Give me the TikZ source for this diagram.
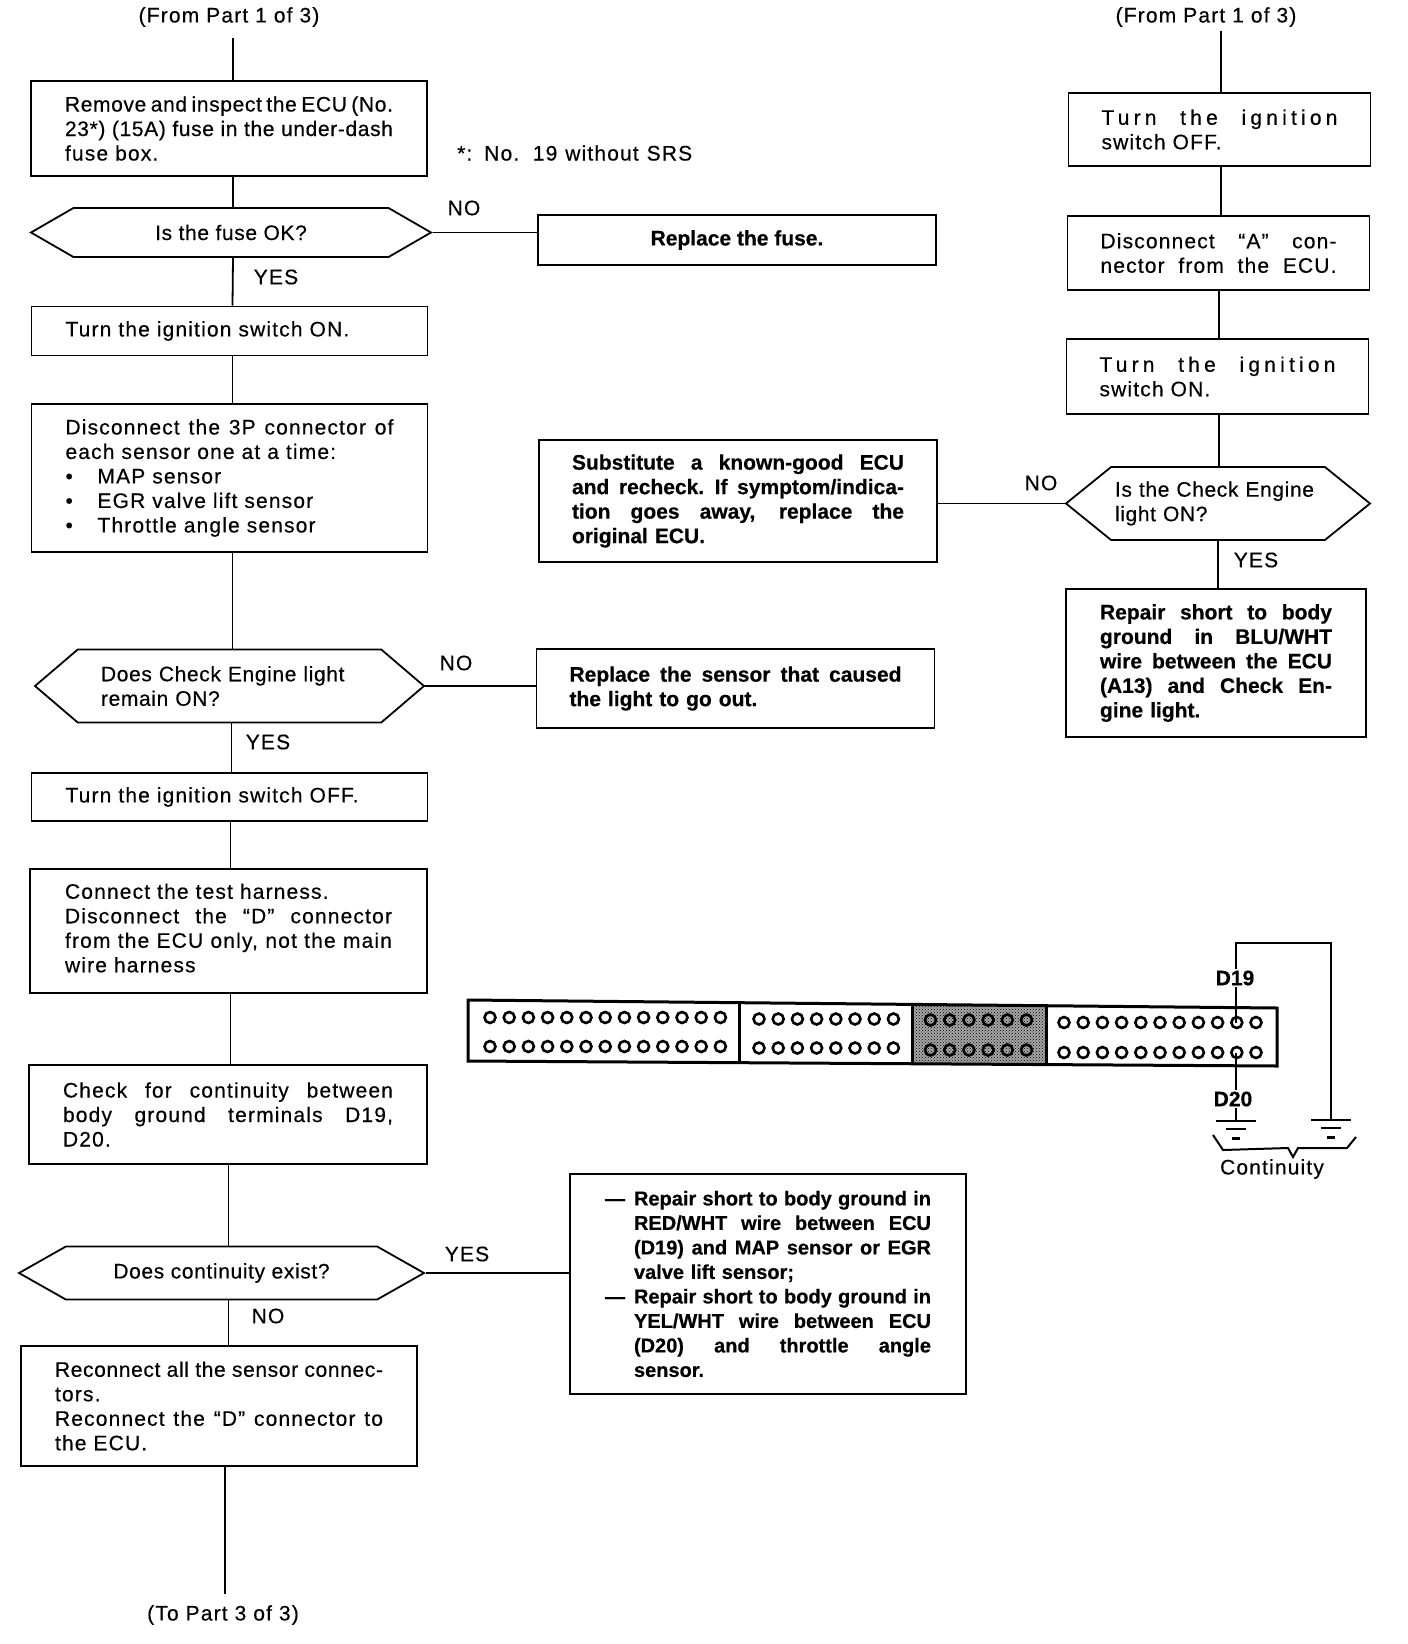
\documentclass[tikz,border=0pt]{standalone}
\usepackage{fontspec}
\setmainfont[UprightFeatures={LetterSpace=5.5,FakeBold=0.4},BoldFeatures={FakeBold=0.5}]{Liberation Sans}
\newfontfamily\tightfont[LetterSpace=3,FakeBold=0.4]{Liberation Sans}
\newfontfamily\widefont[LetterSpace=20,FakeBold=0.4]{Liberation Sans}
\usetikzlibrary{calc,shapes.symbols,patterns}

% one line of a box, spread to the full measure
\newcommand{\jline}[2][\hsize]{\makebox[#1][s]{\spaceskip=.3em plus 1fil minus .1em\relax #2}}
% the same, with the letters closer or further apart
\newcommand{\tightline}[1]{\jline{\tightfont #1}}
\newcommand{\wideline}[1]{\jline{\widefont #1}}

\begin{document}
\begin{tikzpicture}[
  x=1pt,
  y=-1pt,
  font=\fontsize{21}{24.5}\selectfont,
  line/.style={draw=black,line width=1.8pt},
  wire/.style={draw=black,line width=2.2pt},
  flowbox/.style={line,rectangle,align=left,inner xsep=#1,inner ysep=0pt},
  flowbox/.default=33pt,
  boldbox/.style={flowbox=#1,font=\fontsize{21}{24.5}\selectfont\bfseries},
  boldbox/.default=33pt,
  query/.style={line,signal,signal to=east and west,inner sep=0pt,align=left,
    font=\fontsize{21}{24.5}\selectfont\tightfont},
  tag/.style={inner sep=0pt},
  pinlabel/.style={fill=white,inner sep=2pt,font=\fontsize{21}{24.5}\selectfont\bfseries},
  hole/.style={draw=black,line width=2.6pt,fill=none}
]
\useasboundingbox (0,0) rectangle (1408,1644);

% Left column
\node[tag] (fromleft) at (229,17) {(From Part 1 of 3)};
\node[flowbox=34pt,text width=328pt,minimum height=95pt] (fuse) at (229,128.5)
  {\tightline{Remove and inspect the ECU (No.}\\\tightline{23*) (15A) fuse in the under-dash}\\fuse box.};
\node[query,minimum width=400pt,minimum height=49pt,signal pointer angle=60] (isfuse) at (231,232.5)
  {Is the fuse OK?};
\node[flowbox=34pt,text width=328pt,minimum height=49pt] (ignon) at (229.5,331)
  {Turn the ignition switch ON.};
\node[flowbox=34pt,text width=328pt,minimum height=148pt] (sensors) at (229.5,478)
  {\jline{Disconnect the 3P connector of}\\each sensor one at a time:\\
   \makebox[32pt][l]{\textbullet}MAP sensor\\
   \makebox[32pt][l]{\textbullet}EGR valve lift sensor\\
   \makebox[32pt][l]{\textbullet}Throttle angle sensor};
\node[query,minimum width=389pt,minimum height=73pt,signal pointer angle=81,text width=257pt] (remain) at (229.5,686)
  {Does Check Engine light\\remain ON?};
\node[flowbox=34pt,text width=328pt,minimum height=48pt] (ignoff) at (229.5,797)
  {Turn the ignition switch OFF.};
\node[flowbox=35pt,text width=327pt,minimum height=124pt] (harness) at (228.5,931)
  {Connect the test harness.\\\jline{Disconnect the ``D'' connector}\\\jline{from the ECU only, not the main}\\wire harness\vspace{6pt}};
\node[flowbox=34pt,text width=330pt,minimum height=99pt] (continuity) at (228,1114.5)
  {\jline{Check for continuity between}\\\jline{body ground terminals D19,}\\D20.};
\node[query,minimum width=405pt,minimum height=53pt,signal pointer angle=59] (exist) at (221.5,1273)
  {Does continuity exist?};
\node[flowbox=34pt,text width=328pt,minimum height=120pt] (reconnect) at (219,1406)
  {\tightline{Reconnect all the sensor connec-}\\tors.\\\jline{Reconnect the ``D'' connector to}\\the ECU.};
\node[tag] (toleft) at (223,1615) {(To Part 3 of 3)};

% Middle column
\node[tag,anchor=west] (note) at (457,153) {\jline[235pt]{*: No. 19 without SRS}};
\node[boldbox,minimum width=398pt,minimum height=50pt,align=center] (newfuse) at (737,240)
  {Replace the fuse.};
\node[boldbox,text width=332pt,minimum height=122pt] (substitute) at (738,501)
  {\jline{Substitute a known-good ECU}\\\jline{and recheck. If symptom/indica-}\\\jline{tion goes away, replace the}\\original ECU.};
\node[boldbox,text width=332pt,minimum height=79pt] (newsensor) at (735.5,688.5)
  {\jline{Replace the sensor that caused}\\the light to go out.};
\node[boldbox=35pt,text width=326pt,minimum height=220pt,font=\fontsize{20}{24.5}\selectfont\bfseries] (repairs) at (768,1284)
  {\makebox[29pt][l]{---}\jline[297pt]{Repair short to body ground in}\\
   \hspace*{29pt}\jline[297pt]{RED/WHT wire between ECU}\\
   \hspace*{29pt}\jline[297pt]{(D19) and MAP sensor or EGR}\\
   \hspace*{29pt}valve lift sensor;\\
   \makebox[29pt][l]{---}\jline[297pt]{Repair short to body ground in}\\
   \hspace*{29pt}\jline[297pt]{YEL/WHT wire between ECU}\\
   \hspace*{29pt}\jline[297pt]{(D20) and throttle angle}\\
   \hspace*{29pt}sensor.};

% Right column
\node[tag] (fromright) at (1206,17) {(From Part 1 of 3)};
\node[flowbox,text width=236pt,minimum height=73pt] (rightoff) at (1219.5,129.5)
  {\wideline{Turn the ignition}\\switch OFF.};
\node[flowbox,text width=236pt,minimum height=74pt] (unplug) at (1218.5,253)
  {\jline{Disconnect ``A'' con-}\\\jline{nector from the ECU.}};
\node[flowbox,text width=236pt,minimum height=75pt] (righton) at (1217.5,376.5)
  {\wideline{Turn the ignition}\\switch ON.};
\node[query,minimum width=304pt,minimum height=73pt,signal pointer angle=78,text width=206pt] (lighton) at (1218,503.5)
  {Is the Check Engine\\light ON?};
\node[boldbox=34pt,text width=232pt,minimum height=148pt] (repairblu) at (1216,663)
  {\jline{Repair short to body}\\\jline{ground in BLU/WHT}\\\jline{wire between the ECU}\\\jline{(A13) and Check En-}\\gine light.};

% Vertical connectors
\draw[line] (fromleft.south) ++(4,11) -- ([xshift=4pt]fuse.north);
\draw[line] ([xshift=4pt]fuse.south) -- ([xshift=2pt]isfuse.north);
\draw[line] ([xshift=2pt]isfuse.south) -- ([xshift=3pt]ignon.north);
\draw[line] ([xshift=3pt]ignon.south) -- ([xshift=3pt]sensors.north);
\draw[line] ([xshift=3pt]sensors.south) -- ([xshift=3pt]remain.north);
\draw[line] ([xshift=2pt]remain.south) -- ([xshift=2pt]ignoff.north);
\draw[line] ([xshift=1pt]ignoff.south) -- ([xshift=2pt]harness.north);
\draw[line] ([xshift=2pt]harness.south) -- ([xshift=2.5pt]continuity.north);
\draw[line] ([xshift=0.5pt]continuity.south) -- ([xshift=7pt]exist.north);
\draw[line] ([xshift=7pt]exist.south) -- ([xshift=9.5pt]reconnect.north);
\draw[line] ([xshift=6pt]reconnect.south) -- ([xshift=2pt,yshift=11pt]toleft.north);
\draw[line] (fromright.south) ++(15,4) -- ([xshift=1.5pt]rightoff.north);
\draw[line] ([xshift=1.5pt]rightoff.south) -- ([xshift=2.5pt]unplug.north);
\draw[line] ([xshift=0.5pt]unplug.south) -- ([xshift=1.5pt]righton.north);
\draw[line] ([xshift=1.5pt]righton.south) -- ([xshift=1pt]lighton.north);
\draw[line] (lighton.south) -- ([xshift=2pt]repairblu.north);

% Branches
\draw[line] (isfuse.east) -- (isfuse.east -| newfuse.west);
\draw[line] (remain.east) -- (remain.east -| newsensor.west);
\draw[line] (lighton.west) -- (lighton.west -| substitute.east);
\draw[line] (exist.east) -- (exist.east -| repairs.west);

% Branch labels
\node[tag] (nofuse) at (464,208) {NO};
\node[tag] (yesfuse) at (276,277) {YES};
\node[tag] (noremain) at (456,663) {NO};
\node[tag] (yesremain) at (268,742) {YES};
\node[tag] (yesexist) at (467,1254) {YES};
\node[tag] (noexist) at (268,1316) {NO};
\node[tag] (nolight) at (1041,483) {NO};
\node[tag] (yeslight) at (1256,560) {YES};

% Connector face
\fill[black!35] (912,1004) rectangle (1046,1064);
\fill[pattern=crosshatch dots,pattern color=black] (912,1004) rectangle (1046,1064);
\draw[line width=3pt] (468,1000) -- (1277,1008) -- (1277,1066) -- (468,1061) -- cycle;
\draw[line width=3pt] (739,1002) -- (739,1063);
\draw[line width=3pt] (912,1004) -- (912,1064);
\draw[line width=3pt] (1046,1005) -- (1046,1065);
\foreach \i in {0,...,12} {
  \draw[hole] ({490+19.2*\i},1017.5) circle (5.5pt);
  \draw[hole] ({490+19.2*\i},1046.5) circle (5.5pt);
}
\foreach \i in {0,...,7} {
  \draw[hole] ({759+19.2*\i},1019) circle (5.5pt);
  \draw[hole] ({759+19.2*\i},1048) circle (5.5pt);
}
\foreach \i in {0,...,5} {
  \draw[hole] ({930.5+19.2*\i},1020) circle (5.5pt);
  \draw[hole] ({930.5+19.2*\i},1050) circle (5.5pt);
}
\foreach \i in {0,...,10} {
  \draw[hole] ({1064+19.2*\i},1022.5) circle (5.5pt);
  \draw[hole] ({1064+19.2*\i},1052.5) circle (5.5pt);
}

% Test leads and grounds
\coordinate (pinnineteen) at (1236,1023);
\coordinate (pintwenty) at (1236,1053);
\coordinate (groundone) at (1236,1121);
\coordinate (groundtwo) at (1331,1120);
\draw[wire] (pinnineteen) -- (1236,943) -- (1331,943) -- (groundtwo);
\draw[wire] (pintwenty) -- (groundone);
\node[pinlabel] (labelnineteen) at (1235,978) {D19};
\node[pinlabel] (labeltwenty) at (1233,1099) {D20};
\foreach \g in {groundone,groundtwo} {
  \draw[line width=2pt] ($(\g)+(-20,0)$) -- ($(\g)+(20,0)$);
  \draw[line width=2pt] ($(\g)+(-10,8)$) -- ($(\g)+(10,8)$);
  \draw[line width=3pt] ($(\g)+(-4,17)$) -- ($(\g)+(4,17)$);
}
\draw[line width=2pt] (1213,1135) -- (1223,1150) -- (1288,1148) -- (1293,1157) -- (1298,1148) -- (1347,1148) -- (1356,1137);
\node[tag] (continuitylabel) at (1272,1169) {Continuity};

\end{tikzpicture}
\end{document}
